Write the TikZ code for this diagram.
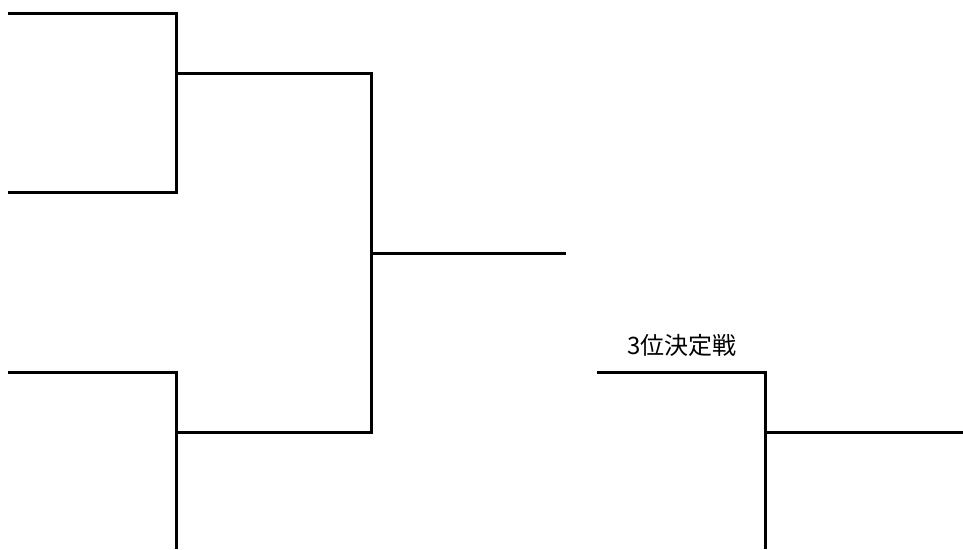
\documentclass[tikz,border=0pt]{standalone}
\usepackage{fontspec}
\newfontfamily\cjk{Noto Sans CJK JP}
\begin{document}
\begin{tikzpicture}[x=1pt,y=-1pt,
  bline/.style={line width=3pt,line cap=butt,line join=miter},
  lbl/.style={font=\cjk\fontsize{24}{28}\selectfont,inner sep=0pt}]
\useasboundingbox (0,0) rectangle (963,549);
% entrants
\coordinate (e1) at (8,13);
\coordinate (e2) at (8,192);
\coordinate (e3) at (8,372);
\coordinate (e4) at (176,549);
% semifinal joins
\coordinate (s1) at (176,73);
\coordinate (s2) at (176,432);
% final
\coordinate (f) at (371,253);
\coordinate (fend) at (566,253);
% third place
\coordinate (t1) at (597,372);
\coordinate (t2) at (765,549);
\coordinate (t) at (765,432);
\coordinate (tend) at (963,432);

\draw[bline] (e1) -| (s1) |- (e2);
\draw[bline] (e3) -| (s2) -- (e4);
\draw[bline] (s1) -| (f) |- (s2);
\draw[bline] (f) -- (fend);
\draw[bline] (t1) -| (t) -- (t2);
\draw[bline] (t) -- (tend);
\node[lbl] (lab) at (682,345) {3位決定戦};
\end{tikzpicture}
\end{document}
